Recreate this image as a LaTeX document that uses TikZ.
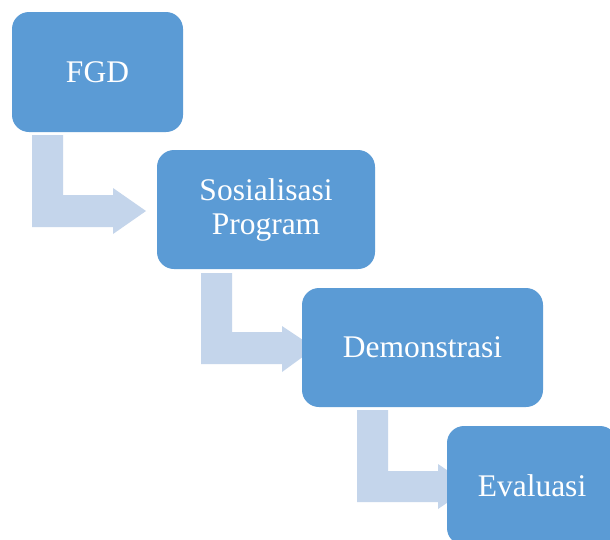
\documentclass[tikz,border=0pt]{standalone}
\usepackage{fontspec}
\setmainfont{Liberation Serif}
\definecolor{boxblue}{HTML}{5B9BD5}
\definecolor{arrowblue}{HTML}{C4D5EB}
\tikzset{
  stage/.style={fill=boxblue, rounded corners=17pt, inner sep=0pt, text=white,
    align=center, font=\fontsize{31.5}{34}\selectfont},
  bent/.style={fill=arrowblue, draw=none}
}
\newcommand{\bentarrow}[8]{%
  \fill[bent] (#1,#2) -- (#1+31,#2) -- (#1+31,#3) -- (#5,#3) -- (#5,#6)
    -- (#8,{(#3+#4)/2}) -- (#5,#7) -- (#5,#4) -- (#1,#4) -- cycle;}
\begin{document}
\begin{tikzpicture}[x=1pt,y=-1pt]
\useasboundingbox (0,0) rectangle (610,539);
\clip (0,0) rectangle (610,539);
\fill[white] (0,0) rectangle (610,539);
% bent arrows (drawn under the boxes)
\bentarrow{32}{135}{195}{227}{113}{188}{234}{146}
\bentarrow{201}{273}{332}{364}{282}{326}{372}{315}
\bentarrow{357}{410}{471}{502}{438}{464}{509}{471}
% stages
\node[stage, minimum width=171pt, minimum height=120pt] (fgd) at (97.5,72) {FGD};
\node[stage, minimum width=218pt, minimum height=119pt] (sos) at (266,209.5) {Sosialisasi\\Program};
\node[stage, minimum width=241pt, minimum height=119pt] (demo) at (422.5,347.5) {Demonstrasi};
\node[stage, minimum width=170pt, minimum height=119pt] (eval) at (532,485.5) {Evaluasi};
\end{tikzpicture}
\end{document}
